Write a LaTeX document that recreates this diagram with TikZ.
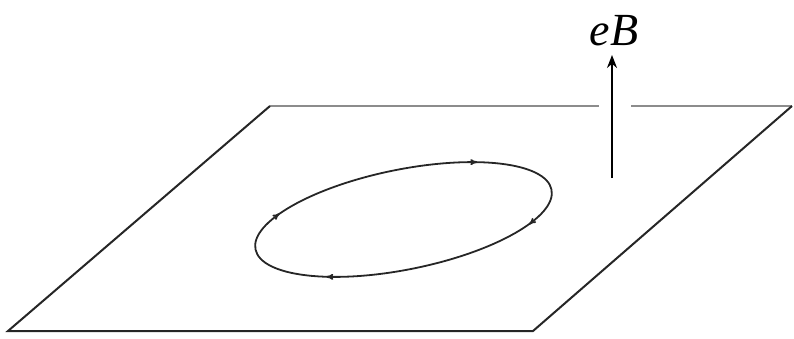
\documentclass[tikz,border=0pt]{standalone}
\usepackage{fontspec}
\setmainfont{Liberation Serif}
\usetikzlibrary{arrows.meta,decorations.markings}
\begin{document}
\begin{tikzpicture}[x=1pt,y=1pt,
  edge/.style={line width=2pt,draw=black!85,line join=miter},
  topedge/.style={line width=2pt,draw=black!45},
  loop/.style={line width=1.8pt,draw=black!85,
    postaction={decorate},
    decoration={markings,
      mark=at position 0.135 with {\arrow{<[length=7pt,width=6pt]}},
      mark=at position 0.443 with {\arrow{<[length=7pt,width=6pt]}},
      mark=at position 0.63 with {\arrow{<[length=7pt,width=6pt]}},
      mark=at position 0.946 with {\arrow{<[length=7pt,width=6pt]}}}},
  field/.style={line width=2pt,draw=black,-{Stealth[length=13pt,width=10pt]}}]
\useasboundingbox (0,0) rectangle (794,338);
\coordinate (BL) at (8,7);
\coordinate (BR) at (533,7);
\coordinate (TR) at (792,232);
\coordinate (TL) at (270,232);
\coordinate (G1) at (599,232);
\coordinate (G2) at (631,232);
\coordinate (C) at (403.5,118.5);
\coordinate (A0) at (612,160);
\node[font=\fontsize{46}{46}\selectfont\itshape, anchor=base, inner sep=0pt] (lab) at (614,292) {eB};
\coordinate (A1) at (612,283);
\draw[topedge] (TL) -- (G1);
\draw[topedge] (G2) -- (TR);
\draw[edge] (TR) -- (BR) -- (BL) -- (TL);
\draw[loop, rotate around={11.4:(C)}] (C) ellipse [x radius=151, y radius=50];
\draw[field] (A0) -- (A1);
\end{tikzpicture}
\end{document}
